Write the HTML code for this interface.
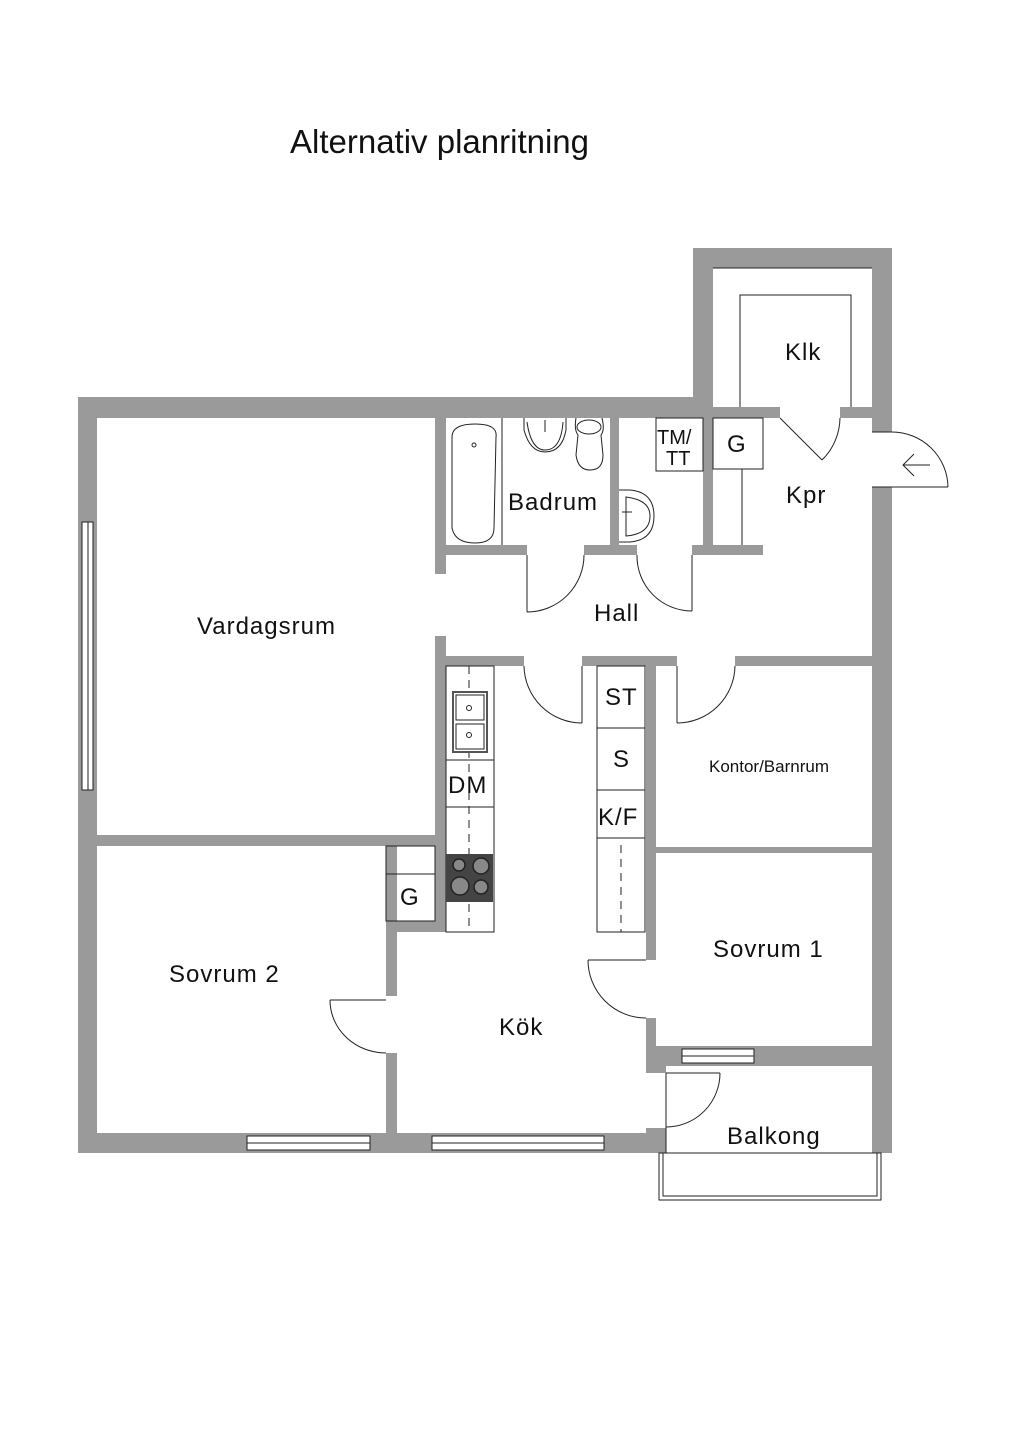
<!DOCTYPE html>
<html><head><meta charset="utf-8"><style>
html,body{margin:0;padding:0;background:#fff;}
svg{display:block;}
text{font-family:"Liberation Sans",sans-serif;fill:#111;}
</style></head><body>
<svg width="1024" height="1448" viewBox="0 0 1024 1448" xmlns="http://www.w3.org/2000/svg">
<text x="290" y="153" font-size="33">Alternativ planritning</text>
<g fill="#9a9a9a">
<rect x="693" y="248" width="199" height="20"/>
<rect x="693" y="248" width="20" height="170"/>
<rect x="872" y="248" width="20" height="184"/>
<rect x="78" y="397" width="635" height="21"/>
<rect x="713" y="407" width="67" height="11"/>
<rect x="840" y="407" width="32" height="11"/>
<rect x="872" y="487" width="20" height="666"/>
<rect x="78" y="397" width="19" height="756"/>
<rect x="435" y="418" width="11" height="156"/>
<rect x="446" y="545" width="81" height="10"/>
<rect x="584" y="545" width="53" height="10"/>
<rect x="692" y="545" width="71" height="10"/>
<rect x="610" y="418" width="9" height="127"/>
<rect x="703" y="418" width="10" height="127"/>
<rect x="435" y="636" width="11" height="296"/>
<rect x="446" y="656" width="78" height="10"/>
<rect x="582" y="656" width="95" height="10"/>
<rect x="735" y="656" width="137" height="10"/>
<rect x="97" y="835" width="338" height="11"/>
<rect x="386" y="846" width="11" height="150"/>
<rect x="386" y="921" width="60" height="11"/>
<rect x="386" y="1053" width="11" height="100"/>
<rect x="646" y="666" width="10" height="294"/>
<rect x="646" y="1018" width="10" height="55"/>
<rect x="656" y="847" width="216" height="6"/>
<rect x="646" y="1046" width="226" height="20"/>
<rect x="646" y="1066" width="20" height="7"/>
<rect x="78" y="1133" width="588" height="20"/>
<rect x="646" y="1128" width="20" height="25"/>
</g>
<g fill="#fff" stroke="#222" stroke-width="1">
<rect x="82" y="522" width="11" height="268"/>
<rect x="247" y="1136" width="123" height="14"/>
<rect x="432" y="1136" width="172" height="14"/>
<rect x="682" y="1049" width="72" height="14"/>
</g>
<g fill="none" stroke="#222" stroke-width="1">
<line x1="88" y1="522" x2="88" y2="790"/>
<line x1="247" y1="1143" x2="370" y2="1143"/>
<line x1="432" y1="1143" x2="604" y2="1143"/>
<line x1="682" y1="1056" x2="754" y2="1056"/>
<polyline points="740,407 740,295 851,295 851,407"/>
<line x1="713" y1="268" x2="872" y2="268"/>
<line x1="780" y1="418" x2="822" y2="460"/>
<path d="M822,460 A60,60 0 0 0 840,418"/>
<line x1="872" y1="487" x2="948" y2="487"/>
<path d="M948,487 A56,56 0 0 0 892,432"/>
<line x1="872" y1="432" x2="892" y2="432"/>
<line x1="903" y1="465" x2="930" y2="465"/>
<polyline points="914,454 903,465 914,476"/>
<line x1="502" y1="418" x2="502" y2="545"/>
<path d="M452,437 Q452,424 475,424 Q498,424 496,437 L494,528 Q494,543 475,543 Q455,543 452,528 Z"/>
<circle cx="474" cy="445" r="2"/>
<path d="M524,418 L524,430 Q530,452 545,452 Q562,452 566,430 L566,418"/>
<path d="M527,422 Q531,450 545,450 Q561,450 563,422"/>
<line x1="545" y1="420" x2="545" y2="432"/>
<path d="M576,418 Q574,430 578,435 L576,455 Q578,470 590,470 Q603,470 603,455 L601,435 Q605,430 602,418"/>
<ellipse cx="589" cy="427" rx="12" ry="7"/>
<path d="M619,490 L630,490 Q654,492 654,516 Q654,540 630,542 L619,542"/>
<path d="M626,497 Q650,500 650,516 Q650,534 626,536 Z"/>
<line x1="622" y1="512" x2="632" y2="512"/>
<rect x="656" y="418" width="47" height="53"/>
<rect x="713" y="418" width="50" height="51"/>
<line x1="742" y1="469" x2="742" y2="545"/>
<line x1="527" y1="555" x2="527" y2="612"/>
<path d="M527,612 A57,57 0 0 0 584,555"/>
<line x1="692" y1="555" x2="692" y2="611"/>
<path d="M692,611 A55,55 0 0 1 637,555"/>
<line x1="582" y1="666" x2="582" y2="723"/>
<path d="M582,723 A58,58 0 0 1 524,666"/>
<line x1="677" y1="666" x2="677" y2="723"/>
<path d="M677,723 A58,58 0 0 0 735,666"/>
<line x1="588" y1="960" x2="646" y2="960"/>
<path d="M588,960 A58,58 0 0 0 646,1018"/>
<line x1="330" y1="1000" x2="386" y2="1000"/>
<path d="M330,1000 A56,53 0 0 0 386,1053"/>
<line x1="666" y1="1073" x2="666" y2="1133"/>
<path d="M720,1073 A54,54 0 0 1 666,1127"/>
<line x1="666" y1="1073" x2="720" y2="1073"/>
<rect x="446" y="666" width="48" height="266"/>
<line x1="446" y1="760" x2="494" y2="760"/>
<line x1="446" y1="807" x2="494" y2="807"/>
<rect x="597" y="666" width="48" height="266"/>
<line x1="597" y1="728" x2="645" y2="728"/>
<line x1="597" y1="790" x2="645" y2="790"/>
<line x1="597" y1="838" x2="645" y2="838"/>
<line x1="469" y1="666" x2="469" y2="932" stroke-dasharray="8,6"/>
<line x1="621" y1="845" x2="621" y2="932" stroke-dasharray="8,6"/>
<rect x="453" y="692" width="34" height="60" stroke="#555" stroke-width="2" fill="#fff"/>
<rect x="456" y="695" width="28" height="25"/>
<rect x="456" y="724" width="28" height="25"/>
<circle cx="469" cy="708" r="2.5"/><circle cx="469" cy="735" r="2.5"/>
<rect x="386" y="846" width="49" height="75"/>
<line x1="386" y1="874" x2="435" y2="874"/>
<rect x="659" y="1153" width="222" height="47"/>
<rect x="663" y="1153" width="214" height="43"/>
<line x1="666" y1="1073" x2="666" y2="1153"/>
</g>
<rect x="446" y="854" width="47" height="48" fill="#444"/>
<g fill="#888" stroke="#222" stroke-width="1.5">
<circle cx="459" cy="865" r="6"/><circle cx="481" cy="866" r="8"/>
<circle cx="460" cy="886" r="9"/><circle cx="481" cy="887" r="7"/>
</g>
<g font-size="24" letter-spacing="1">
<text x="785" y="360">Klk</text>
<text x="786" y="503">Kpr</text>
<text x="508" y="510">Badrum</text>
<text x="594" y="621">Hall</text>
<text x="197" y="634">Vardagsrum</text>
<text x="713" y="957">Sovrum 1</text>
<text x="169" y="982">Sovrum 2</text>
<text x="499" y="1035">Kök</text>
<text x="727" y="1144">Balkong</text>
<text x="727" y="452">G</text>
<text x="400" y="905">G</text>
<text x="605" y="705">ST</text>
<text x="613" y="767">S</text>
<text x="598" y="825">K/F</text>
<text x="448" y="793">DM</text>
</g>
<text x="657" y="444" font-size="20">TM/</text>
<text x="666" y="465" font-size="20">TT</text>
<text x="709" y="772" font-size="17">Kontor/Barnrum</text>
</svg>
</body></html>
